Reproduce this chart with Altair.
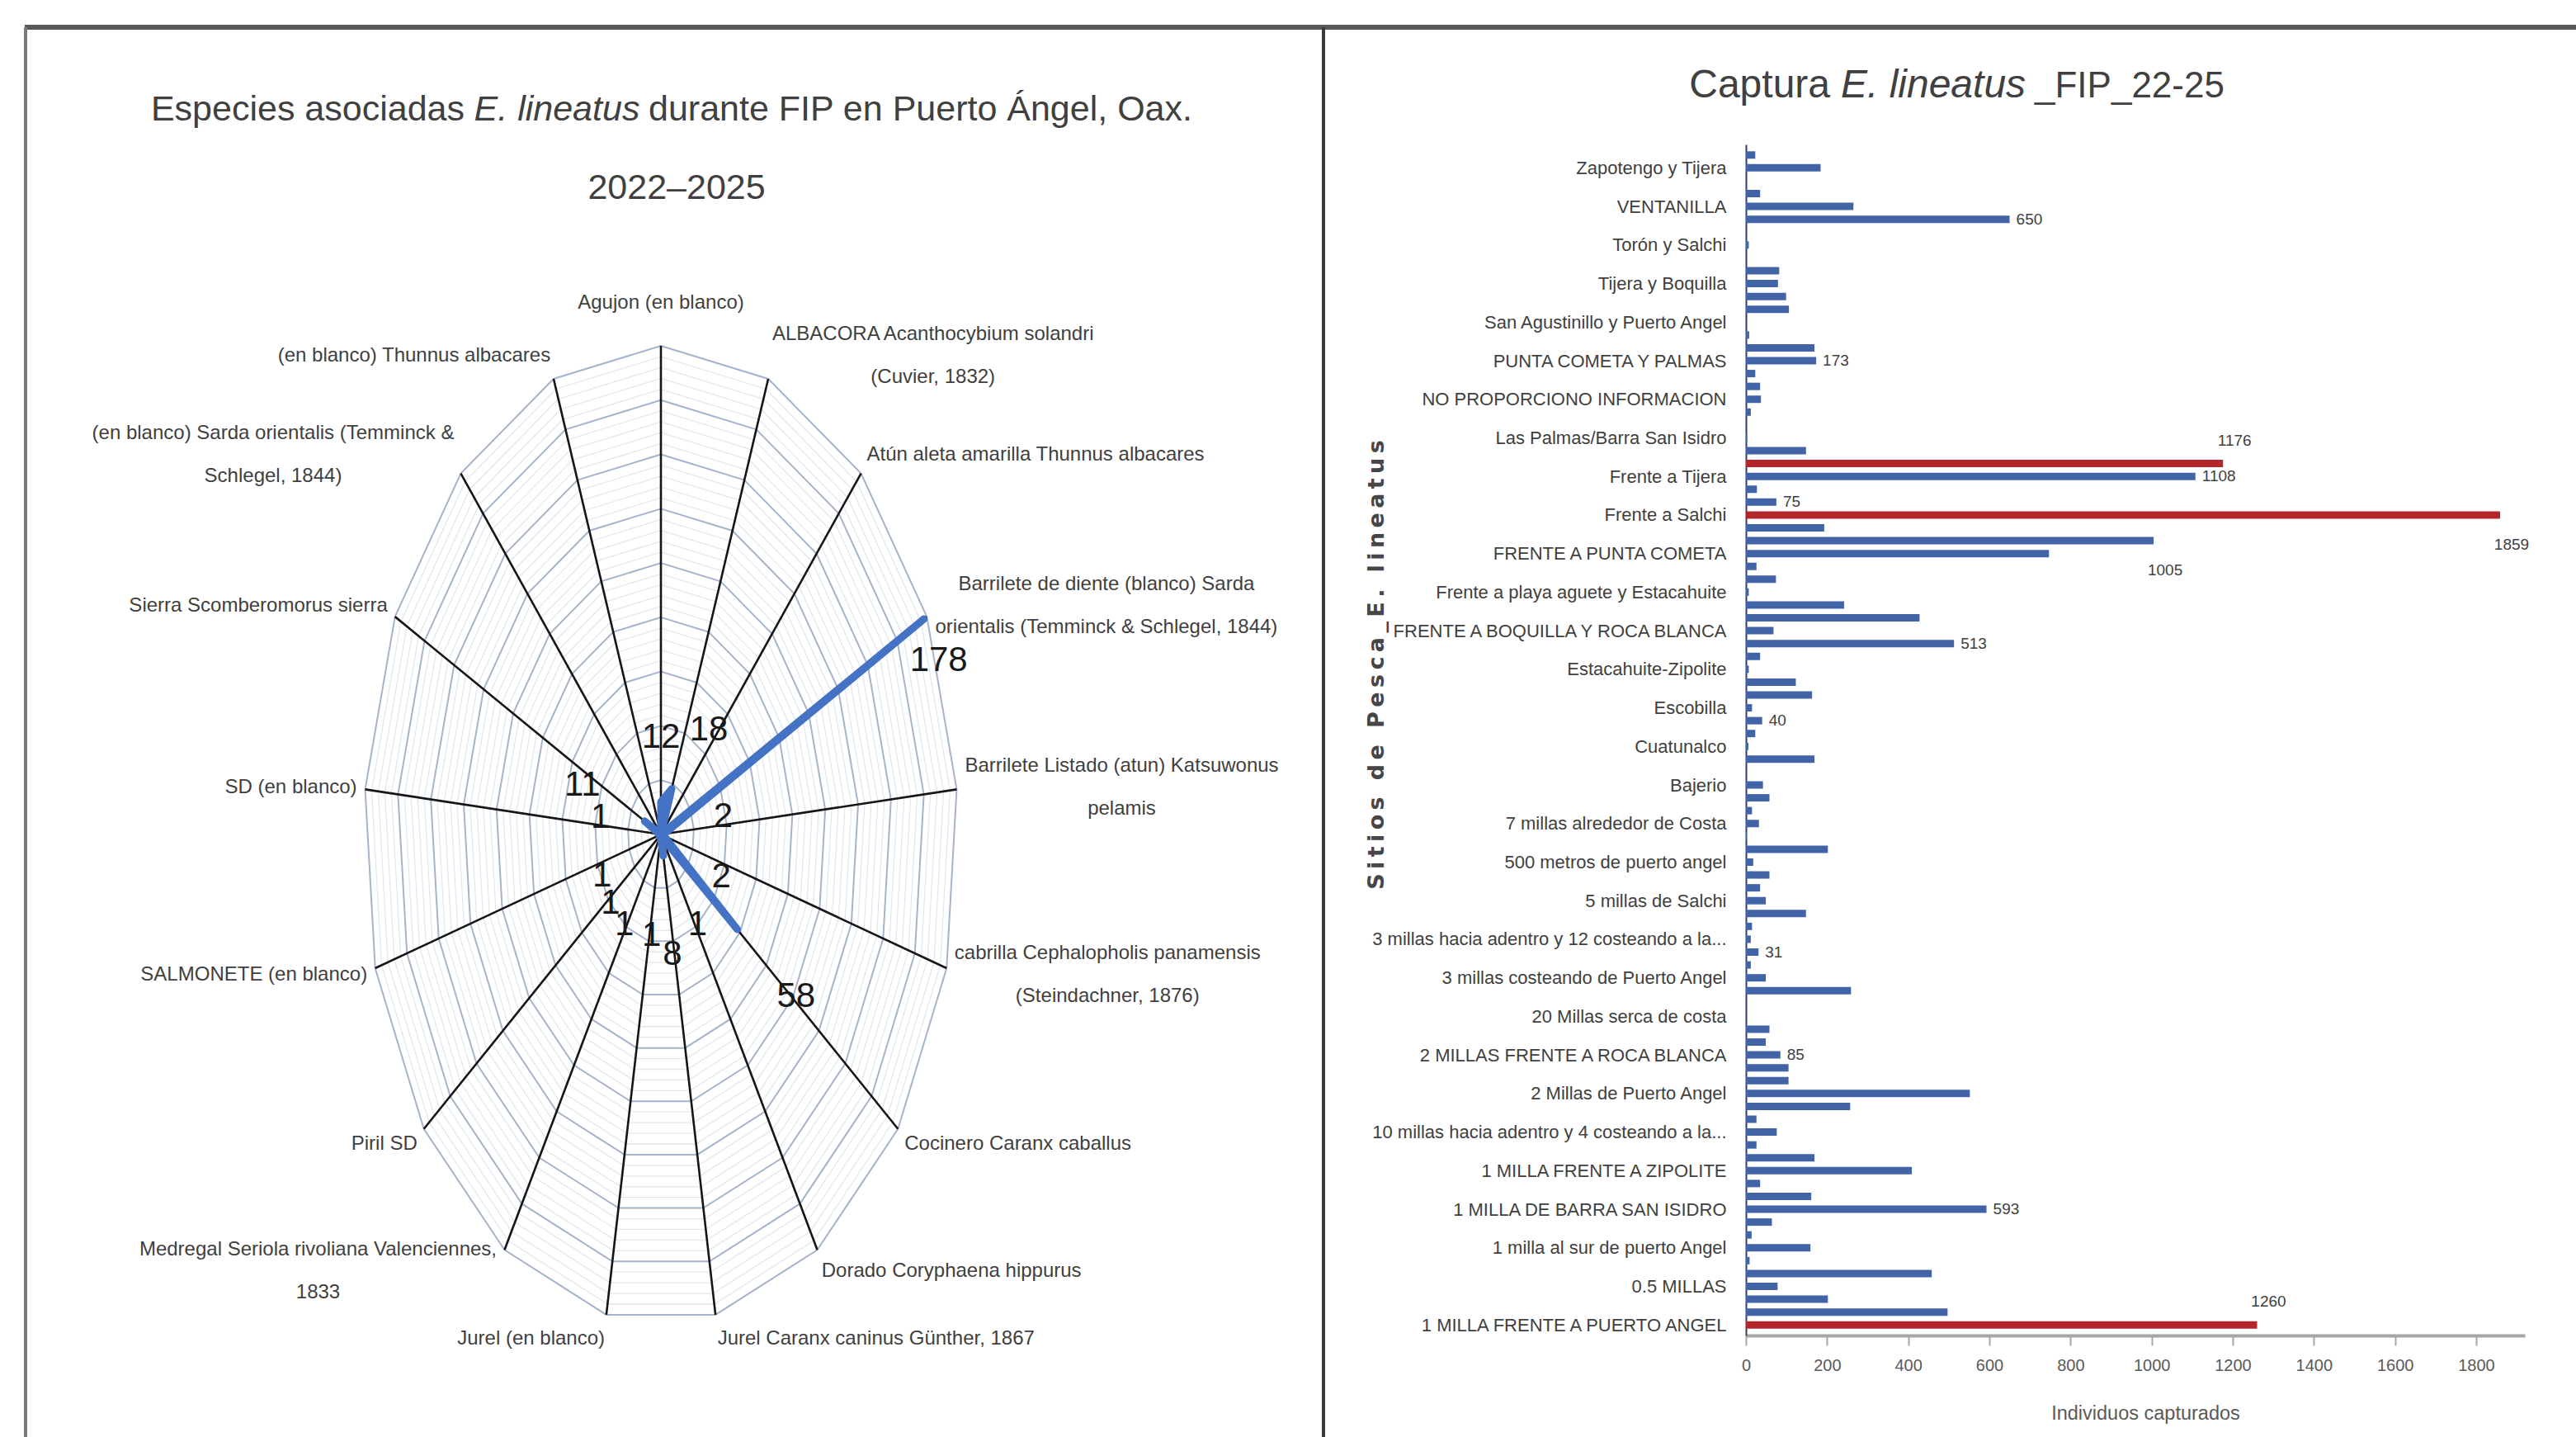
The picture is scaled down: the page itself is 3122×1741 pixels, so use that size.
import json
import altair as alt
import pandas as pd

W, H = 3122, 1741
FONT = "Liberation Sans, Arial, sans-serif"
INK = "#404040"

# Advance widths of the label face (per 1000 units of em), used to centre
# two-line spoke labels beside the tips of their spokes.
GLYPH_WIDTHS = {}
for chars, width in [
    ("ijl", 222), (" .,:;/ftI", 278), ("()-r", 333), ("cksvxyzJ", 500),
    ("abdeghnopqu0123456789úüL", 556), ("FTZ", 611), ("ABEKPSVXY&Á", 667),
    ("CDHNRUw", 722), ("GOQ", 778), ("mM", 833), ("W", 944),
]:
    for ch in chars:
        GLYPH_WIDTHS[ch] = width


def text_width(text, size):
    return sum(GLYPH_WIDTHS.get(ch, 556) for ch in text) * size / 1000


# ---------------- left panel: species caught with E. lineatus (radar) ----------------
species = [
    "Agujon (en blanco)",
    "ALBACORA Acanthocybium solandri\n(Cuvier, 1832)",
    "Atún aleta amarilla Thunnus albacares",
    "Barrilete de diente (blanco) Sarda\norientalis (Temminck & Schlegel, 1844)",
    "Barrilete Listado (atun) Katsuwonus\npelamis",
    "cabrilla Cephalopholis panamensis\n(Steindachner, 1876)",
    "Cocinero Caranx caballus",
    "Dorado Coryphaena hippurus",
    "Jurel Caranx caninus Günther, 1867",
    "Jurel (en blanco)",
    "Medregal  Seriola rivoliana Valenciennes,\n1833",
    "Piril SD",
    "SALMONETE (en blanco)",
    "SD (en blanco)",
    "Sierra Scomberomorus sierra",
    "(en blanco) Sarda orientalis (Temminck &\nSchlegel, 1844)",
    "(en blanco) Thunnus albacares",
]
species_counts = [12, 18, None, 178, 2, 2, 58, 1, 8, 1, 1, 1, 1, 1, 11, None, None]

N = len(species)
RMAX, RING_STEP, MAJOR_STEP = 180, 4, 20
CX, CY, RX, RY = 801, 1011, 360, 592          # radar centre and half-axes in px
KX, KY = RX / RMAX, RY / RMAX
GX, GY = 10, 30                                # gap between spoke tip and its label
CAT_SIZE = 24
CAT_LINE = 52                                  # line height of two-line labels
VAL_GAP = 30                                   # radial gap (in counts) for value labels

THETA = f"2*PI*datum.k/{N}"
rx_scale = alt.Scale(domain=[-RMAX, RMAX], range=[CX - RX, CX + RX], nice=False, zero=False)
ry_scale = alt.Scale(domain=[-RMAX, RMAX], range=[CY + RY, CY - RY], nice=False, zero=False)


def rx(field):
    return alt.X(f"{field}:Q", scale=rx_scale, axis=None)


def ry(field):
    return alt.Y(f"{field}:Q", scale=ry_scale, axis=None)


rings_df = pd.DataFrame(
    [(lvl, k) for lvl in range(RING_STEP, RMAX + 1, RING_STEP) for k in range(N + 1)],
    columns=["lvl", "k"],
)
rings = alt.Chart(rings_df).transform_calculate(
    gx=f"datum.lvl*sin({THETA})",
    gy=f"datum.lvl*cos({THETA})",
    major=f"datum.lvl % {MAJOR_STEP} == 0",
)
minor_rings = rings.transform_filter("!datum.major").mark_line(
    color="#e2e7ef", strokeWidth=1.3
).encode(x=rx("gx"), y=ry("gy"), detail="lvl:N", order="k:Q")
major_rings = rings.transform_filter("datum.major").mark_line(
    color="#a5b4cb", strokeWidth=2
).encode(x=rx("gx"), y=ry("gy"), detail="lvl:N", order="k:Q")

spokes = alt.Chart(pd.DataFrame({"k": list(range(N))})).transform_calculate(
    x0="0", y0="0", xe=f"{RMAX}*sin({THETA})", ye=f"{RMAX}*cos({THETA})"
).mark_rule(color="#161616", strokeWidth=2.6).encode(
    x=rx("x0"), y=ry("y0"), x2="xe:Q", y2="ye:Q"
)

# closed outline: the last vertex repeats the first spoke
series_df = pd.DataFrame({
    "k": list(range(N + 1)),
    "v": [species_counts[k % N] if species_counts[k % N] is not None else 0 for k in range(N + 1)],
})
series = alt.Chart(series_df).transform_calculate(
    px=f"datum.v*sin({THETA})", py=f"datum.v*cos({THETA})"
).mark_line(color="#4472C4", strokeWidth=9, strokeJoin="round", strokeCap="round").encode(
    x=rx("px"), y=ry("py"), order="k:Q"
)

vals_df = pd.DataFrame({
    "k": [k for k, v in enumerate(species_counts) if v is not None],
    "v": [v for v in species_counts if v is not None],
})
# labels below the centre hang under their point, those near the horizontal sit above it
vals = alt.Chart(vals_df).transform_calculate(
    s=f"sin({THETA})", c=f"cos({THETA})"
).transform_calculate(
    shift="datum.c > 0.8 ? 20 : (datum.c > 0.3 ? 0 : (datum.c > 0 ? -12 : 22))"
)


def value_labels(cond, align, rl_expr, **kw):
    return vals.transform_filter(cond).transform_calculate(rl=rl_expr).transform_calculate(
        lx="datum.rl*datum.s", ly=f"datum.rl*datum.c - datum.shift/{KY}"
    ).mark_text(
        font=FONT, fontSize=42, color="#1a1a1a", baseline="middle", align=align, **kw
    ).encode(x=rx("lx"), y=ry("ly"), text="v:Q")


small = f"datum.v + {VAL_GAP}"
val_layers = [
    value_labels("datum.v < 100 && datum.s > 0.3", "left", small),
    value_labels("datum.v < 100 && datum.s < -0.3", "right", small),
    value_labels("datum.v < 100 && abs(datum.s) <= 0.3", "center", small),
    value_labels("datum.v >= 100", "center", f"datum.v + datum.shift/{KY}*datum.c", dx=18, dy=50),
]

cat_df = pd.DataFrame({
    "k": list(range(N)),
    "name": species,
    "lines": [s.count("\n") + 1 for s in species],
    "w": [max(text_width(line, CAT_SIZE) for line in s.split("\n")) for s in species],
})
# multi-line labels are lifted by half their extra height so the block is centred
cat_labels = alt.Chart(cat_df).transform_calculate(
    s=f"sin({THETA})", c=f"cos({THETA})"
).transform_calculate(
    side="abs(datum.s) < 0.05 ? 0 : (datum.s > 0 ? 1 : -1)"
).transform_calculate(
    lx=f"(({RX + GX})*datum.s + datum.side*datum.w/2)/{KX}",
    ly=(
        f"((({RY + GY}) + (datum.side == 0 ? 22 : 0))*datum.c"
        f" + (datum.lines - 1)*{CAT_LINE / 2})/{KY}"
    ),
).mark_text(
    font=FONT, fontSize=CAT_SIZE, color=INK, align="center", baseline="middle",
    lineBreak="\n", lineHeight=CAT_LINE,
).encode(x=rx("lx"), y=ry("ly"), text="name:N")

radar = alt.layer(minor_rings, major_rings, spokes, series, *val_layers, cat_labels)

# ---------------- right panel: catch per fishing site (bars) ----------------
sites = [
    "Zapotengo y Tijera", "VENTANILLA", "Torón y Salchi", "Tijera y Boquilla",
    "San Agustinillo y Puerto Angel", "PUNTA COMETA Y PALMAS", "NO PROPORCIONO INFORMACION",
    "Las Palmas/Barra San Isidro", "Frente a Tijera", "Frente a Salchi",
    "FRENTE A PUNTA COMETA", "Frente a playa aguete y Estacahuite",
    "FRENTE A BOQUILLA Y ROCA BLANCA", "Estacahuite-Zipolite", "Escobilla", "Cuatunalco",
    "Bajerio", "7 millas alrededor de Costa", "500 metros de puerto angel",
    "5 millas de Salchi", "3 millas hacia adentro y 12 costeando a la...",
    "3 millas costeando de Puerto Angel", "20 Millas serca de costa",
    "2 MILLAS FRENTE A ROCA BLANCA", "2 Millas de Puerto Angel",
    "10 millas hacia adentro y 4 costeando a la...", "1 MILLA FRENTE A ZIPOLITE",
    "1 MILLA DE BARRA SAN ISIDRO", "1 milla al sur de puerto Angel", "0.5 MILLAS",
    "1 MILLA FRENTE A PUERTO ANGEL",
]
# one value per row, top to bottom; a site name is printed on every third row
catches = [
    23, 184, 0, 35, 265, 650, 0, 7, 0, 82,
    79, 99, 106, 0, 8, 169, 173, 23, 35, 37,
    12, 0, 3, 148, 1176, 1108, 27, 75, 1859, 193,
    1005, 747, 26, 74, 7, 242, 428, 68, 513, 35,
    7, 123, 163, 15, 40, 23, 6, 169, 0, 42,
    58, 15, 32, 2, 202, 18, 58, 35, 49, 148,
    15, 12, 31, 12, 49, 259, 0, 0, 58, 49,
    85, 105, 105, 552, 257, 26, 76, 26, 169, 409,
    35, 161, 593, 64, 14, 159, 9, 458, 78, 202,
    497, 1260,
]
shown_values = [650, 173, 1176, 1108, 75, 1859, 1005, 513, 40, 31, 85, 593, 1260]
above_values = [1176, 1260]
below_values = [1859, 1005]

BLUE, RED = "#4264a6", "#b3262c"
BX0, BX1, XMAX = 2116, 3060, 1920
BY0, BY1 = 175, 1618

bx = alt.Scale(domain=[0, XMAX], range=[BX0, BX1], nice=False, zero=True)
by = alt.Scale(domain=[-0.5, len(catches) - 0.5], range=[BY0, BY1], nice=False, zero=False)

label_expr = json.dumps(sites, ensure_ascii=False) + "[(datum.value - 1) / 3]"

y_title = "Sitios de Pesca_E. lineatus"
# the axis title is set letter-spaced with thin spaces
y_title_spaced = "\u2009".join(y_title)

x_axis = alt.Axis(
    orient="bottom", offset=BY1 - H, values=list(range(0, 1801, 200)), format="d", grid=False,
    domainColor="#a6a6a6", domainWidth=4, tickColor="#a6a6a6", tickWidth=2, tickSize=12,
    labelFont=FONT, labelFontSize=20, labelColor="#595959", labelPadding=14,
    labelFlush=False, labelOverlap=False,
    title="Individuos capturados", titleFont=FONT, titleFontSize=23.5, titleFontWeight="normal",
    titleColor="#595959", titleX=2600, titleY=94, titleBaseline="middle", titleAlign="center",
)
y_axis = alt.Axis(
    orient="left", offset=-BX0, values=list(range(1, len(catches), 3)), labelExpr=label_expr,
    grid=False, ticks=False, tickSize=0, domainColor="#2f3f66", domainWidth=2,
    labelFont=FONT, labelFontSize=22, labelColor=INK, labelPadding=24, labelLimit=700,
    labelOverlap=False, labelFlush=False,
    title=y_title_spaced, titleFont="DejaVu Sans", titleFontWeight="bold",
    titleFontSize=27, titleColor="#464646", titleX=1668 - BX0, titleY=805, titleAngle=270,
    titleBaseline="middle", titleAlign="center", titleLimit=900,
)

bars_df = pd.DataFrame({"p": list(range(len(catches))), "n": catches})
bx_enc = alt.X("n:Q", scale=bx, axis=x_axis)
by_enc = alt.Y("p:Q", scale=by, axis=y_axis)

bars = alt.Chart(bars_df).transform_window(
    rank="rank()", sort=[alt.SortField("n", order="descending")]
).mark_bar(orient="horizontal", size=9).encode(
    x=bx_enc, y=by_enc,
    color=alt.condition("datum.rank <= 3", alt.value(RED), alt.value(BLUE)),
)

labelled = alt.Chart(bars_df).transform_filter(
    f"indexof({json.dumps(shown_values)}, datum.n) >= 0"
)
side_labels = labelled.transform_filter(
    f"indexof({json.dumps(above_values + below_values)}, datum.n) < 0"
).mark_text(font=FONT, fontSize=19, color=INK, align="left", baseline="middle", dx=8).encode(
    x=bx_enc, y=by_enc, text="n:Q"
)
top_labels = labelled.transform_filter(
    f"indexof({json.dumps(above_values)}, datum.n) >= 0"
).mark_text(font=FONT, fontSize=19, color=INK, align="center", baseline="middle", dx=14, dy=-28).encode(
    x=bx_enc, y=by_enc, text="n:Q"
)
low_labels = labelled.transform_filter(
    f"indexof({json.dumps(below_values)}, datum.n) >= 0"
).mark_text(font=FONT, fontSize=19, color=INK, align="center", baseline="middle", dx=14, dy=36).encode(
    x=bx_enc, y=by_enc, text="n:Q"
)

bar_panel = alt.layer(bars, side_labels, top_labels, low_labels)

# ---------------- titles and frame ----------------
one = pd.DataFrame({"a": [0]})


def title_piece(text, x, y, size, align, italic=False):
    return alt.Chart(pd.DataFrame({"t": [text]})).mark_text(
        font=FONT, fontSize=size, fontStyle="italic" if italic else "normal",
        align=align, baseline="alphabetic", color=INK,
    ).encode(x=alt.value(x), y=alt.value(y), text="t:N")


titles = [
    title_piece("Especies asociadas", 563, 146, 43, "right"),
    title_piece("E. lineatus", 675, 146, 43, "center", italic=True),
    title_piece("durante FIP en Puerto Ángel, Oax.", 786, 146, 43, "left"),
    title_piece("2022–2025", 820, 241, 43, "center"),
    title_piece("Captura", 2218, 118, 48, "right"),
    title_piece("E. lineatus", 2343, 118, 48, "center", italic=True),
    title_piece("_FIP_22-25", 2466, 118, 44, "left"),
]

frame = [
    alt.Chart(one).mark_rule(color="#585858", strokeWidth=6).encode(
        x=alt.value(30), x2=alt.value(W), y=alt.value(33)),
    alt.Chart(one).mark_rule(color="#7a7a7a", strokeWidth=4).encode(
        x=alt.value(31), y=alt.value(33), y2=alt.value(H)),
    alt.Chart(one).mark_rule(color="#3a3a3a", strokeWidth=4).encode(
        x=alt.value(1604), y=alt.value(33), y2=alt.value(H)),
]

chart = alt.layer(*frame, *titles, radar, bar_panel).resolve_scale(
    x="independent", y="independent"
).properties(
    width=W, height=H, autosize=alt.AutoSizeParams(type="none"), padding=0,
    background="white",
).configure_view(stroke=None)

chart.save("out.html", embed_options={"renderer": "svg", "actions": False})
